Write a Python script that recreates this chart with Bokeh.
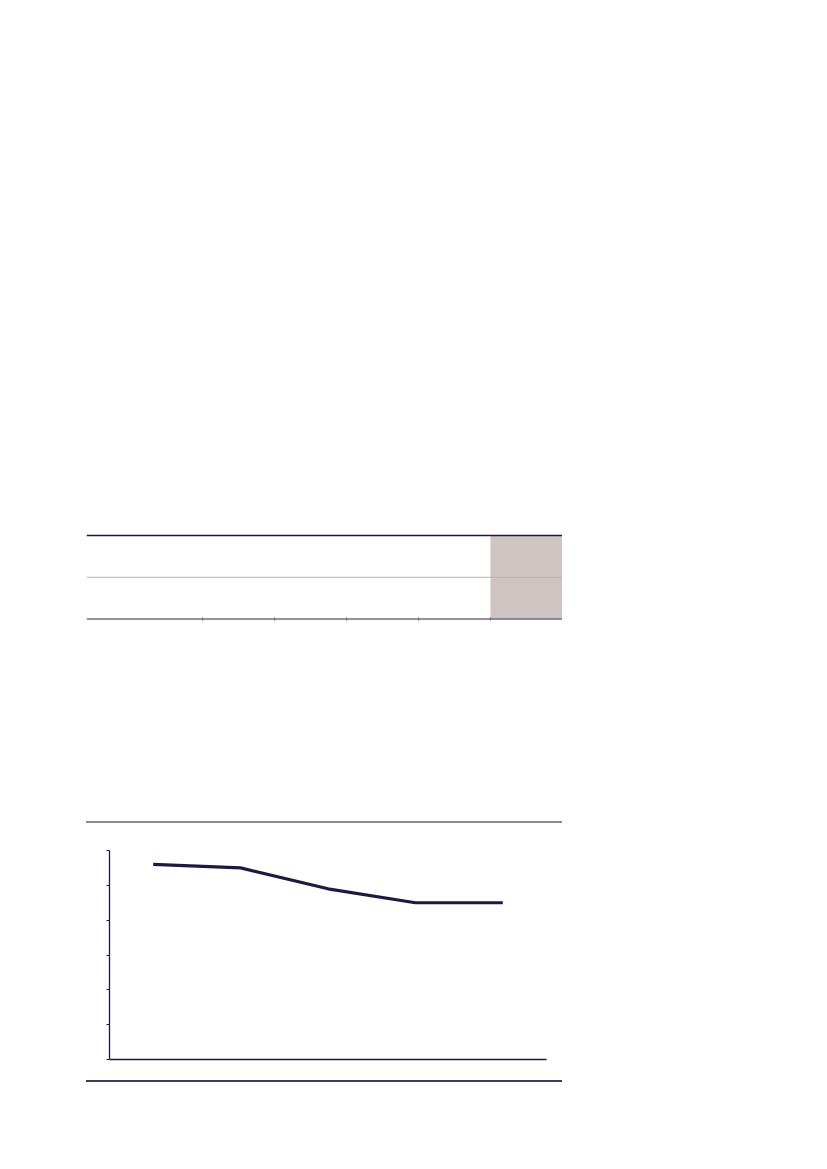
from bokeh.plotting import figure
from bokeh.layouts import column, row, Spacer
from bokeh.models import Range1d, FactorRange, Span, FixedTicker, CustomLabelingPolicy, Div
from bokeh.embed import file_html
from bokeh.resources import INLINE

# ---- data ----
periods = ["P1", "P2", "P3", "P4", "P5"]
values = [5.6, 5.5, 4.9, 4.5, 4.5]
y_ticks = [0, 1, 2, 3, 4, 5, 6]

# table structure (blank table, 6 columns x 2 rows, last column shaded)
table_col_widths = [116, 72, 72, 72, 72, 72]
table_rows = 2
shaded_col = 5

NAVY = "#1b1a42"
SECTION_W = 476
LEFT_PAD = 86

def blank_fig(w, h, xr, yr, bg="white"):
    f = figure(width=w, height=h, x_range=xr, y_range=yr, output_backend="svg",
               toolbar_location=None, min_border=0, background_fill_color=bg,
               border_fill_color=bg)
    f.axis.visible = False
    f.grid.visible = False
    f.outline_line_color = None
    return f

# ---- table ----
th = 90
t = blank_fig(SECTION_W, th, Range1d(0, SECTION_W), Range1d(0, th))
top_y, bot_y = 87, 3.5
edges = [0]
for wdt in table_col_widths:
    edges.append(edges[-1] + wdt)
t.quad(left=[edges[shaded_col]], right=[edges[shaded_col + 1]], bottom=[bot_y], top=[top_y],
       fill_color="#cec4c2", line_color=None)
row_h = (top_y - bot_y) / table_rows
for i in range(1, table_rows):
    t.add_layout(Span(location=top_y - i * row_h, dimension="width", line_color="#b3b3bb", line_width=1.2))
t.add_layout(Span(location=top_y, dimension="width", line_color=NAVY, line_width=1.6))
t.add_layout(Span(location=bot_y, dimension="width", line_color="#6c6c8c", line_width=1.6))
t.segment(x0=edges[1:-1], x1=edges[1:-1], y0=[bot_y - 1.5] * (len(edges) - 2), y1=[bot_y + 1.5] * (len(edges) - 2),
          line_color="#4a4a6a", line_width=1)

# ---- rules ----
def rule(color):
    return Div(text="", width=SECTION_W, height=2, margin=0,
               styles={"background-color": color, "width": f"{SECTION_W}px", "height": "2px"})

# ---- line chart ----
p = figure(width=SECTION_W, height=254, x_range=FactorRange(*periods), y_range=Range1d(0, 6),
           output_backend="svg", toolbar_location=None,
           min_border_left=23, min_border_right=16, min_border_top=24, min_border_bottom=17)
p.outline_line_color = None
p.grid.visible = False
p.line(x=periods, y=values, line_color=NAVY, line_width=3.2)

p.yaxis.ticker = FixedTicker(ticks=y_ticks)
p.yaxis.major_label_policy = CustomLabelingPolicy(code="for (const i of indices) { indices.unset(i) } return indices")
p.yaxis.axis_line_color = NAVY
p.yaxis.axis_line_width = 1.3
p.yaxis.major_tick_line_color = NAVY
p.yaxis.major_tick_out = 3
p.yaxis.major_tick_in = 0
p.yaxis.minor_tick_line_color = None
p.yaxis.major_label_standoff = 0

p.xaxis.major_label_policy = CustomLabelingPolicy(code="for (const i of indices) { indices.unset(i) } return indices")
p.xaxis.axis_line_color = NAVY
p.xaxis.axis_line_width = 1.3
p.xaxis.major_tick_line_color = None
p.xaxis.major_label_standoff = 0

layout = column(
    Spacer(height=532),
    row(Spacer(width=LEFT_PAD), t),
    Spacer(height=199),
    row(Spacer(width=LEFT_PAD), rule("#8a8a8a")),
    Spacer(height=3),
    row(Spacer(width=LEFT_PAD), p),
    row(Spacer(width=LEFT_PAD), rule("#3c3b5e")),
)

open("out.html", "w").write(file_html(layout, INLINE))
